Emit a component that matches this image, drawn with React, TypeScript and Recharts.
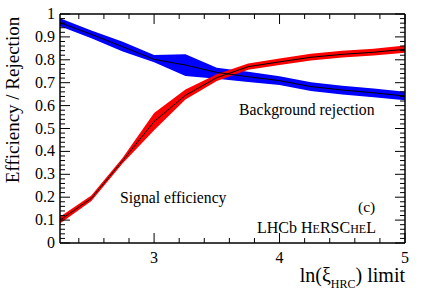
import { ComposedChart, Area, Line, XAxis, YAxis } from 'recharts';

// ln(xi_HRC) limit values where the curves were sampled
const limits = [2.25, 2.5, 2.75, 3.0, 3.25, 3.5, 3.75, 4.0, 4.25, 4.5, 4.75, 5.0];

// background rejection (blue): central value and band edges
const bkgRej = [0.962, 0.911, 0.857, 0.802, 0.777, 0.745, 0.726, 0.709, 0.683, 0.668, 0.656, 0.642];
const bkgLo = [0.946, 0.894, 0.836, 0.789, 0.729, 0.717, 0.703, 0.69, 0.664, 0.649, 0.637, 0.623];
const bkgHi = [0.981, 0.928, 0.879, 0.821, 0.824, 0.765, 0.748, 0.728, 0.702, 0.687, 0.675, 0.661];

// signal efficiency (red): central value and band edges
const sigEff = [0.1, 0.195, 0.36, 0.53, 0.645, 0.722, 0.77, 0.791, 0.811, 0.824, 0.833, 0.846];
const sigLo = [0.085, 0.183, 0.348, 0.492, 0.627, 0.707, 0.757, 0.777, 0.797, 0.81, 0.819, 0.831];
const sigHi = [0.115, 0.207, 0.372, 0.568, 0.67, 0.737, 0.784, 0.806, 0.826, 0.839, 0.848, 0.862];

// axis ticks
const xMajor = [3, 4, 5];
const yMajor = [0, 0.1, 0.2, 0.3, 0.4, 0.5, 0.6, 0.7, 0.8, 0.9, 1];
const yLabels = ['0', '0.1', '0.2', '0.3', '0.4', '0.5', '0.6', '0.7', '0.8', '0.9', '1'];

const xTicks = Array.from({ length: 14 }, (_, i) => Math.round((2.4 + i * 0.2) * 10) / 10);
const yTicks = Array.from({ length: 51 }, (_, i) => Math.round(i * 2) / 100);

const data = limits.map((x, i) => ({
  x,
  bkg: bkgRej[i],
  bkgBand: [bkgLo[i], bkgHi[i]],
  sig: sigEff[i],
  sigBand: [sigLo[i], sigHi[i]],
}));

const FONT = '"Liberation Serif", "DejaVu Serif", serif';
const isMajorX = (v: number) => xMajor.some((m) => Math.abs(m - v) < 1e-6);
const isMajorY = (v: number) => yMajor.some((m) => Math.abs(m - v) < 1e-6);

const BottomTick = (p: any) => {
  const v = p.payload.value;
  const major = isMajorX(v);
  return (
    <g>
      <line x1={p.x} x2={p.x} y1={p.y} y2={p.y - (major ? 10 : 5)} stroke="#000" strokeWidth={1} />
      {major && (
        <text x={p.x} y={p.y + 20} textAnchor="middle" fontSize={16} fontFamily={FONT} fill="#000">
          {v}
        </text>
      )}
    </g>
  );
};

const TopTick = (p: any) => {
  const major = isMajorX(p.payload.value);
  return <line x1={p.x} x2={p.x} y1={p.y} y2={p.y + (major ? 10 : 5)} stroke="#000" strokeWidth={1} />;
};

const LeftTick = (p: any) => {
  const v = p.payload.value;
  const major = isMajorY(v);
  const idx = yMajor.findIndex((m) => Math.abs(m - v) < 1e-6);
  return (
    <g>
      <line x1={p.x} x2={p.x + (major ? 10 : 5)} y1={p.y} y2={p.y} stroke="#000" strokeWidth={1} />
      {major && (
        <text x={p.x - 5} y={p.y + 5} textAnchor="end" fontSize={16} fontFamily={FONT} fill="#000">
          {yLabels[idx]}
        </text>
      )}
    </g>
  );
};

const RightTick = (p: any) => {
  const major = isMajorY(p.payload.value);
  return <line x1={p.x} x2={p.x - (major ? 10 : 5)} y1={p.y} y2={p.y} stroke="#000" strokeWidth={1} />;
};

const axisLine = { stroke: '#000', strokeWidth: 1.5 };

export default function App() {
  return (
    <div style={{ position: 'absolute', left: 0, top: 0, background: '#fff' }}>
      <ComposedChart width={427} height={290} data={data} margin={{ top: 13, right: 21, bottom: 46, left: 59 }}>
        <XAxis
          xAxisId="b"
          dataKey="x"
          type="number"
          domain={[2.25, 5]}
          allowDataOverflow
          ticks={xTicks}
          interval={0}
          height={1}
          tickSize={0}
          tickMargin={0}
          tickLine={false}
          axisLine={axisLine}
          tick={(p: any) => <BottomTick {...p} />}
        />
        <XAxis
          xAxisId="t"
          orientation="top"
          dataKey="x"
          type="number"
          domain={[2.25, 5]}
          allowDataOverflow
          ticks={xTicks}
          interval={0}
          height={1}
          tickSize={0}
          tickMargin={0}
          tickLine={false}
          axisLine={axisLine}
          tick={(p: any) => <TopTick {...p} />}
        />
        <YAxis
          yAxisId="l"
          type="number"
          domain={[0, 1]}
          allowDataOverflow
          ticks={yTicks}
          interval={0}
          width={1}
          tickSize={0}
          tickMargin={0}
          tickLine={false}
          axisLine={axisLine}
          tick={(p: any) => <LeftTick {...p} />}
        />
        <YAxis
          yAxisId="r"
          orientation="right"
          type="number"
          domain={[0, 1]}
          allowDataOverflow
          ticks={yTicks}
          interval={0}
          width={1}
          tickSize={0}
          tickMargin={0}
          tickLine={false}
          axisLine={axisLine}
          tick={(p: any) => <RightTick {...p} />}
        />
        <Area
          xAxisId="b"
          yAxisId="l"
          type="linear"
          dataKey="bkgBand"
          stroke="none"
          fill="#0000ff"
          fillOpacity={1}
          isAnimationActive={false}
        />
        <Line
          xAxisId="t"
          yAxisId="r"
          type="linear"
          dataKey="bkg"
          stroke="#000"
          strokeWidth={1}
          dot={false}
          isAnimationActive={false}
        />
        <Area
          xAxisId="b"
          yAxisId="l"
          type="linear"
          dataKey="sigBand"
          stroke="none"
          fill="#ff0000"
          fillOpacity={1}
          isAnimationActive={false}
        />
        <Line
          xAxisId="t"
          yAxisId="r"
          type="linear"
          dataKey="sig"
          stroke="#000"
          strokeWidth={1}
          dot={false}
          isAnimationActive={false}
        />
        <text transform="rotate(-90)" x={-100} y={19} textAnchor="middle" fontSize={19} fontFamily={FONT} fill="#000">
          Efficiency / Rejection
        </text>
        <text x={405} y={282} textAnchor="end" fontSize={20} fontFamily={FONT} fill="#000">
          ln(ξ
          <tspan fontSize={12} dy={6}>HRC</tspan>
          <tspan dy={-6}>) limit</tspan>
        </text>
        <text x={239} y={115} fontSize={15.7} fontFamily={FONT} fill="#000">
          Background rejection
        </text>
        <text x={120} y={203} fontSize={15.7} fontFamily={FONT} fill="#000">
          Signal efficiency
        </text>
        <text x={358} y={212} fontSize={15.5} fontFamily={FONT} fill="#000">
          (c)
        </text>
        <text x={257} y={233} fontSize={16} fontFamily={FONT} fill="#000">
          LHCb H<tspan fontSize={12}>E</tspan>RSC<tspan fontSize={12}>HE</tspan>L
        </text>
      </ComposedChart>
    </div>
  );
}
